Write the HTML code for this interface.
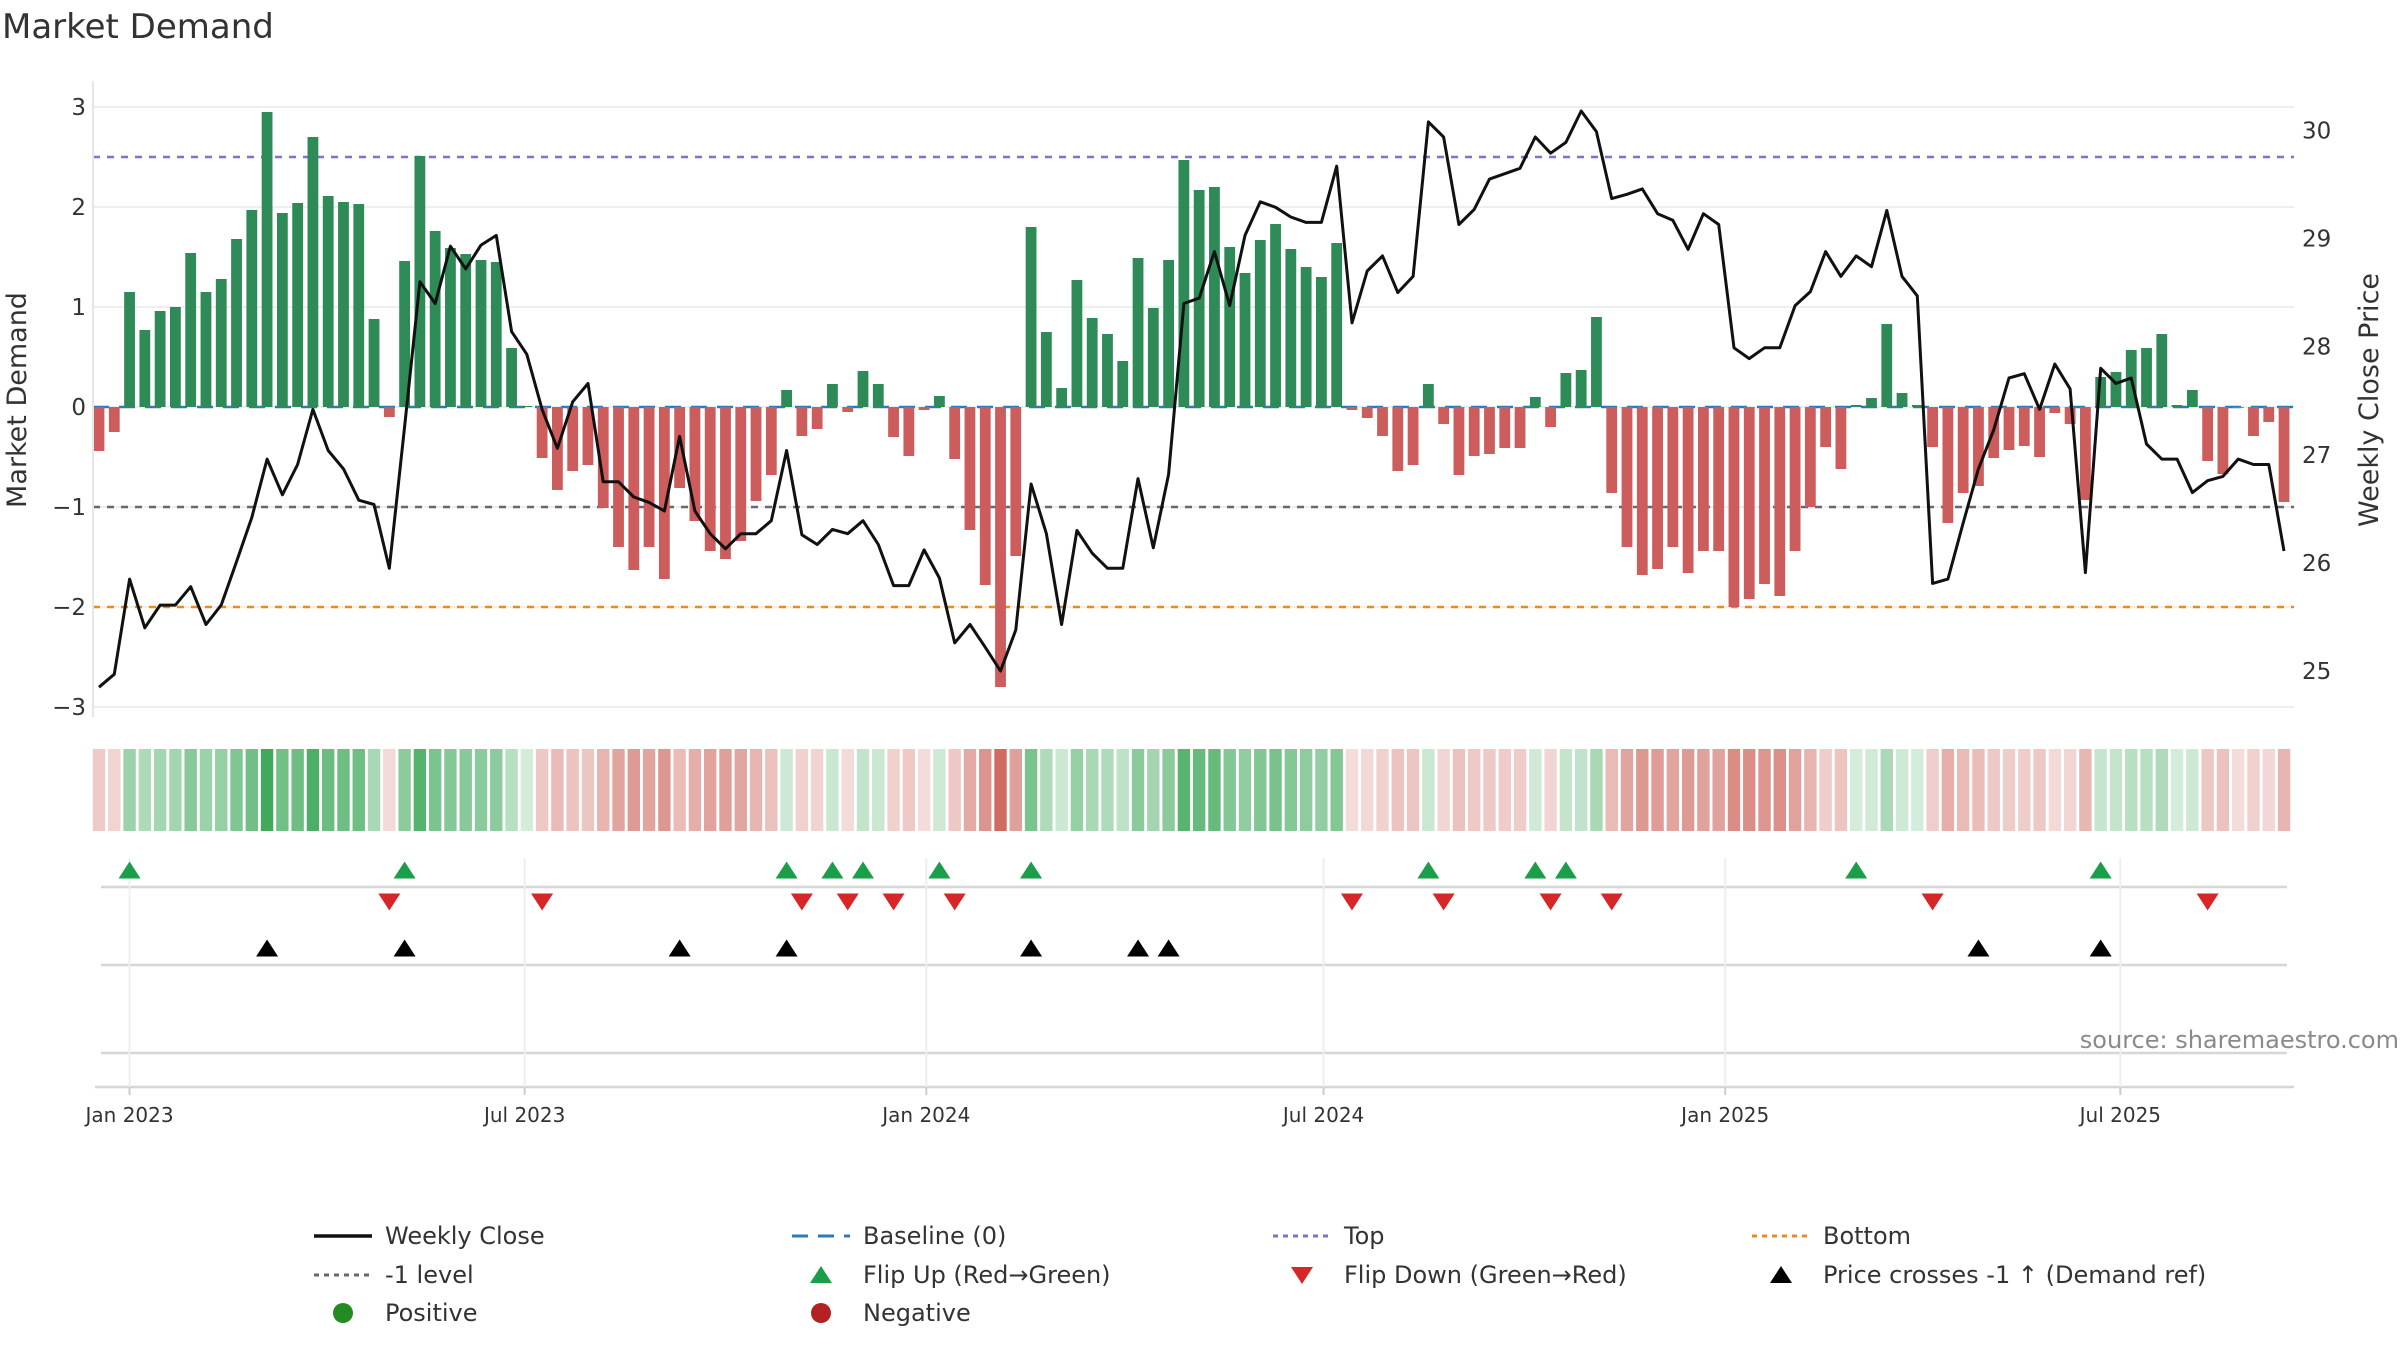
<!DOCTYPE html>
<html><head><meta charset="utf-8"><title>Market Demand</title>
<style>
html,body{margin:0;padding:0;background:#fff;}
svg{display:block;font-family:"DejaVu Sans","Liberation Sans",sans-serif;}
</style></head>
<body>
<svg id="chart" width="2400" height="1350" viewBox="0 0 2400 1350" xmlns="http://www.w3.org/2000/svg">
<text x="2" y="38" font-size="34" fill="#333">Market Demand</text>
<g id="grid"></g>
<g id="refs"></g>
<g id="bars"></g>
<g id="price"></g>
<g id="axes"></g>
<g id="heat"></g>
<g id="marks"></g>
<text transform="translate(26,400) rotate(-90)" text-anchor="middle" font-size="27" fill="#333">Market Demand</text>
<text transform="translate(2378,400) rotate(-90)" text-anchor="middle" font-size="27" fill="#333">Weekly Close Price</text>
<text x="2399" y="1048" text-anchor="end" font-size="24" fill="#8a8a8a">source: sharemaestro.com</text>
<g id="legend"></g>
</svg>
<script>
const demand = [-0.44,-0.25,1.15,0.77,0.96,1.0,1.54,1.15,1.28,1.68,1.97,2.95,1.94,2.04,2.70,2.11,2.05,2.03,0.88,-0.10,
1.46,2.51,1.76,1.59,1.53,1.47,1.45,0.59,0.01,-0.51,-0.83,-0.64,-0.58,-1.01,-1.40,-1.63,-1.40,-1.72,-0.81,-1.14,
-1.44,-1.52,-1.34,-0.94,-0.68,0.17,-0.29,-0.22,0.23,-0.05,0.36,0.23,-0.30,-0.49,-0.03,0.11,-0.52,-1.23,-1.78,-2.80,
-1.49,1.80,0.75,0.19,1.27,0.89,0.73,0.46,1.49,0.99,1.47,2.47,2.17,2.2,1.60,1.34,1.67,1.83,1.58,1.40,
1.30,1.64,-0.03,-0.11,-0.29,-0.64,-0.58,0.23,-0.17,-0.68,-0.49,-0.47,-0.41,-0.41,0.10,-0.20,0.34,0.37,0.90,-0.86,
-1.40,-1.68,-1.62,-1.40,-1.66,-1.44,-1.44,-2.0,-1.92,-1.77,-1.89,-1.44,-1.0,-0.40,-0.62,0.02,0.09,0.83,0.14,0.02,
-0.40,-1.16,-0.86,-0.79,-0.51,-0.43,-0.39,-0.50,-0.06,-0.17,-0.93,0.30,0.35,0.57,0.59,0.73,0.02,0.17,-0.54,-0.67,
-0.01,-0.29,-0.15,-0.95];
const closes = [24.85,24.97,25.85,25.40,25.61,25.61,25.78,25.43,25.61,26.01,26.42,26.96,26.63,26.91,27.42,27.04,26.87,26.58,26.54,25.95,
27.26,28.60,28.40,28.93,28.72,28.94,29.03,28.14,27.93,27.42,27.06,27.49,27.66,26.75,26.75,26.61,26.56,26.48,27.17,26.48,
26.27,26.13,26.27,26.27,26.39,27.04,26.26,26.17,26.31,26.27,26.39,26.17,25.79,25.79,26.12,25.86,25.26,25.43,25.22,25.00,
25.38,26.73,26.27,25.43,26.30,26.09,25.95,25.95,26.78,26.14,26.82,28.40,28.45,28.88,28.38,29.03,29.34,29.29,29.20,29.15,
29.15,29.67,28.22,28.70,28.84,28.50,28.65,30.08,29.94,29.13,29.27,29.55,29.60,29.65,29.94,29.79,29.89,30.18,29.99,29.37,
29.41,29.46,29.23,29.17,28.90,29.23,29.13,27.99,27.89,27.99,27.99,28.38,28.51,28.88,28.65,28.84,28.74,29.26,28.65,28.47,
25.81,25.85,26.37,26.87,27.23,27.71,27.75,27.42,27.84,27.61,25.91,27.80,27.66,27.71,27.10,26.96,26.96,26.65,26.76,26.80,
26.96,26.91,26.91,26.11];
const priceCrossIdx = [11,20,38,45,61,68,70,123,131];
const demandTicks = [3,2,1,0,-1,-2,-3];
const priceTicks = [25,26,27,28,29,30];
const dateTicks = [["2023-01-01","Jan 2023"],["2023-07-01","Jul 2023"],["2024-01-01","Jan 2024"],["2024-07-01","Jul 2024"],["2025-01-01","Jan 2025"],["2025-07-01","Jul 2025"]];
const refLevels = [["top",2.5,"#7f6fd6","7,7"],["minus-one",-1,"#666677","7,7"],["bottom",-2,"#ee8a1c","7,7"]];

const NS="http://www.w3.org/2000/svg";
const X0=99, PITCH=15.28, START=Date.UTC(2022,11,18);
const xi=i=>X0+i*PITCH;
const yD=v=>407-v*100;
const yP=p=>130.5+(30-p)*108.1;
const xDate=s=>{const [y,m,d]=s.split("-").map(Number);return xi((Date.UTC(y,m-1,d)-START)/864e5/7);};
function mk(tag,attrs,parent){const e=document.createElementNS(NS,tag);for(const k in attrs)e.setAttribute(k,attrs[k]);parent.appendChild(e);return e;}
const G=id=>document.getElementById(id);
const L=93,R=2294;

// gridlines
demandTicks.forEach(t=>{const l=mk("line",{x1:L,x2:R,y1:yD(t),y2:yD(t),stroke:"#eeeeee","stroke-width":2},G("grid"));

});
// axes
const al=mk("line",{x1:L,x2:L,y1:81,y2:717,stroke:"#e6e6e6","stroke-width":2},G("axes"));


demandTicks.forEach(t=>{const tx=mk("text",{x:86,y:yD(t)+8,"text-anchor":"end","font-size":23,fill:"#333"},G("axes"));tx.textContent=t<0?"\u2212"+Math.abs(t):String(t);

});
priceTicks.forEach(t=>{const tx=mk("text",{x:2302,y:yP(t)+8,"font-size":23,fill:"#333"},G("axes"));tx.textContent=String(t);

});
// reference lines
const bl=mk("line",{x1:L,x2:R,y1:yD(0),y2:yD(0),stroke:"#2b7bba","stroke-width":2.5,"stroke-dasharray":"16,10"},G("refs"));


refLevels.forEach(r=>{const l=mk("line",{x1:L,x2:R,y1:yD(r[1]),y2:yD(r[1]),stroke:r[2],"stroke-width":2.5,"stroke-dasharray":r[3]},G("refs"));

});
// bars
demand.forEach((v,i)=>{const y0=yD(0),y1=yD(v);const b=mk("rect",{x:xi(i)-5.4,width:10.8,y:Math.min(y0,y1),height:Math.max(0.5,Math.abs(y1-y0)),fill:v>=0?"#2e8b57":"#cd5c5c"},G("bars"));

});
// price line
const pl=mk("polyline",{points:closes.map((p,i)=>xi(i).toFixed(1)+","+yP(p).toFixed(1)).join(" "),fill:"none",stroke:"#111","stroke-width":3,"stroke-linejoin":"round"},G("price"));


// heat strip
demand.forEach((v,i)=>{const a=Math.min(1,0.2+0.72*Math.abs(v)/3);const c=mk("rect",{x:xi(i)-6.2,width:12.4,y:749,height:82,fill:v>=0?"rgb(45,160,75)":"rgb(200,85,75)","fill-opacity":a.toFixed(3)},G("heat"));

});
// marker panel lines and vertical grid
[[887,101,2287],[965,101,2287],[1053,101,2287],[1087,95,2294]].forEach(s=>{const l=mk("line",{x1:s[1],x2:s[2],y1:s[0],y2:s[0],stroke:"#d6d6d6","stroke-width":2.5},G("marks"));

});
dateTicks.forEach(d=>{const x=xDate(d[0]);
const g=mk("line",{x1:x,x2:x,y1:858,y2:1087,stroke:"#eeeeee","stroke-width":2},G("marks"));


const tk=mk("line",{x1:x,x2:x,y1:1087,y2:1095,stroke:"#cccccc","stroke-width":2},G("marks"));


const t=mk("text",{x:x,y:1122,"text-anchor":"middle","font-size":20,fill:"#333"},G("marks"));t.textContent=d[1];

});
function tri(x,y,up,col,name){const h=17,w=11;const pts=up?`${x-w},${y+h/2} ${x+w},${y+h/2} ${x},${y-h/2}`:`${x-w},${y-h/2} ${x+w},${y-h/2} ${x},${y+h/2}`;
const p=mk("polygon",{points:pts,fill:col},G("marks"));

}
for(let i=1;i<demand.length;i++){
 if(demand[i-1]<0&&demand[i]>=0)tri(xi(i),870,true,"#1a9e4a","flip-up-marker");
 if(demand[i-1]>=0&&demand[i]<0)tri(xi(i),902,false,"#d62728","flip-down-marker");
}
priceCrossIdx.forEach(i=>tri(xi(i),948,true,"#000","price-cross-marker"));
// legend
const lg=G("legend");
const cols=[314,792,1273,1752], rows=[1236,1275,1313];
function ltext(c,r,s,name){const t=mk("text",{x:cols[c]+71,y:rows[r]+8,"font-size":24,fill:"#333"},lg);t.textContent=s;

}
function lline(c,r,col,dash,w,name){const l=mk("line",{x1:cols[c],x2:cols[c]+58,y1:rows[r],y2:rows[r],stroke:col,"stroke-width":w,"stroke-dasharray":dash},lg);

}
lline(0,0,"#111","none",3.5,"legend-weekly-close-swatch");ltext(0,0,"Weekly Close","legend-weekly-close");
lline(0,1,"#666677","5,5",3,"legend-minus-one-swatch");ltext(0,1,"-1 level","legend-minus-one");
lline(1,0,"#2b7bba","16,10",3,"legend-baseline-swatch");ltext(1,0,"Baseline (0)","legend-baseline");
lline(2,0,"#7f6fd6","5,5",3,"legend-top-swatch");ltext(2,0,"Top","legend-top");
lline(3,0,"#ee8a1c","5,5",3,"legend-bottom-swatch");ltext(3,0,"Bottom","legend-bottom");
function lmark(c,r,kind,col,name){const x=cols[c]+29,y=rows[r];let e;
 if(kind==="c")e=mk("circle",{cx:x,cy:y,r:10,fill:col},lg);
 else if(kind==="u")e=mk("polygon",{points:`${x-11},${y+8} ${x+11},${y+8} ${x},${y-9}`,fill:col},lg);
 else e=mk("polygon",{points:`${x-11},${y-8} ${x+11},${y-8} ${x},${y+9}`,fill:col},lg);
 
 }
lmark(1,1,"u","#1a9e4a","legend-flip-up-swatch");ltext(1,1,"Flip Up (Red\u2192Green)","legend-flip-up");
lmark(2,1,"d","#d62728","legend-flip-down-swatch");ltext(2,1,"Flip Down (Green\u2192Red)","legend-flip-down");
lmark(3,1,"u","#000","legend-price-cross-swatch");ltext(3,1,"Price crosses -1 \u2191 (Demand ref)","legend-price-cross");
lmark(0,2,"c","#228b22","legend-positive-swatch");ltext(0,2,"Positive","legend-positive");
lmark(1,2,"c","#b22222","legend-negative-swatch");ltext(1,2,"Negative","legend-negative");
</script>
</body></html>
